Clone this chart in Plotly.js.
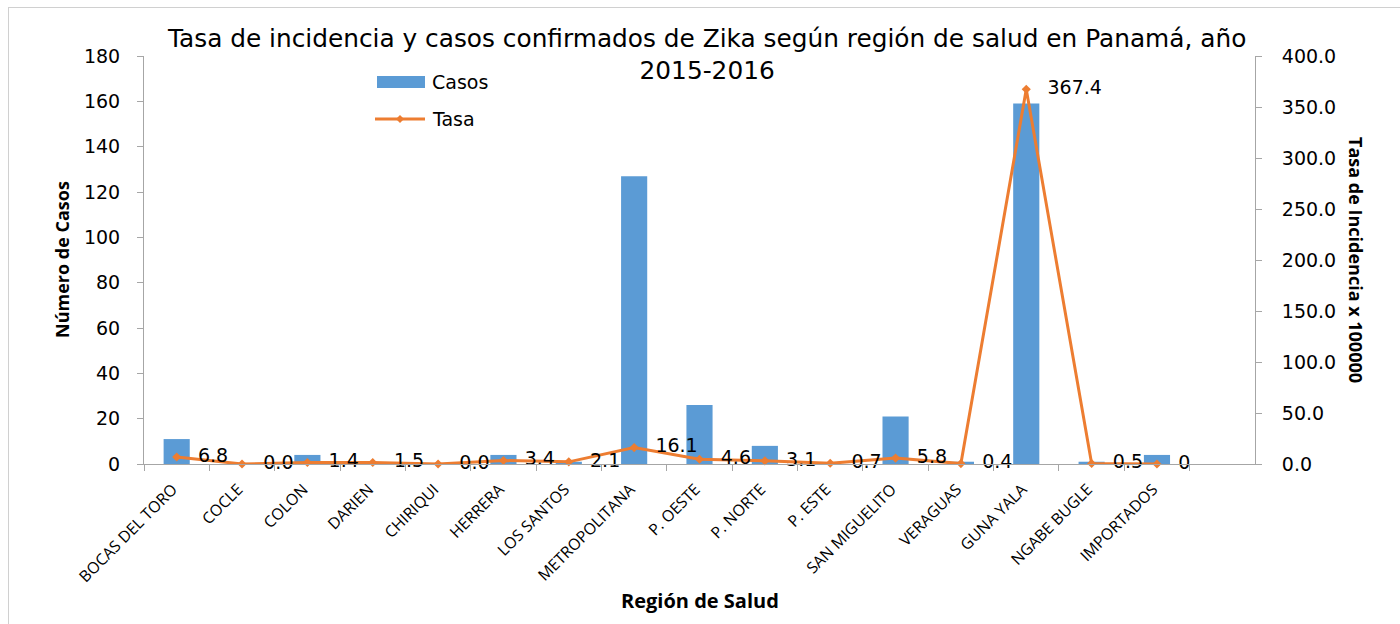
<!DOCTYPE html>
<html>
<head>
<meta charset="utf-8">
<script src="https://cdn.plot.ly/plotly-3.0.1.min.js"></script>
<style>
html,body{margin:0;padding:0;background:#fff;}
#frame{position:absolute;left:8px;top:7px;width:1420px;height:640px;border-left:1px solid #d0d0d0;border-top:1px solid #d0d0d0;pointer-events:none;}
#chart{width:1400px;height:624px;}
</style>
</head>
<body>
<div id="chart"></div>
<div id="frame"></div>
<script>
const regiones = ["BOCAS DEL TORO","COCLE","COLON","DARIEN","CHIRIQUI","HERRERA","LOS SANTOS","METROPOLITANA","P. OESTE","P. NORTE","P. ESTE","SAN MIGUELITO","VERAGUAS","GUNA YALA","NGABE BUGLE","IMPORTADOS"];
const casos = [11,0,4,0,0,4,1,127,26,8,0,21,1,159,1,4];
const tasa = [6.8,0.0,1.4,1.5,0.0,3.4,2.1,16.1,4.6,3.1,0.7,5.8,0.4,367.4,0.5,0];
const tasaEtiquetas = ["6.8","0.0","1.4","1.5","0.0","3.4","2.1","16.1","4.6","3.1","0.7","5.8","0.4","367.4","0.5","0"];
const casosTicks = [0,20,40,60,80,100,120,140,160,180];
const tasaTicks = [0,50,100,150,200,250,300,350,400];
const titulo = "Tasa de incidencia y casos confirmados de Zika según región de salud en Panamá, año<br>2015-2016";

const tickFont = {family:"DejaVu Sans, Verdana, sans-serif", size:19, color:"#000"};
const labelFont = {family:"DejaVu Sans, Verdana, sans-serif", size:19, color:"#000"};
const titleFont = {family:"Open Sans, sans-serif", size:18, color:"#000", weight:"bold"};

const px = v => (v-144)/1111;
const py = v => (464-v)/408;

const data = [
  {type:"bar", name:"Casos", x:regiones, y:casos, marker:{color:"#5B9BD5"}, showlegend:false, hoverinfo:"x+y"},
  {type:"scatter", mode:"lines+markers+text", name:"Tasa", x:regiones, y:tasa, yaxis:"y2",
   text:tasaEtiquetas, texttemplate:"\u00a0\u00a0\u2009%{text}", textposition:"middle right", textfont:labelFont,
   cliponaxis:false, showlegend:false,
   line:{color:"#ED7D31", width:3}, marker:{color:"#ED7D31", size:7, symbol:"diamond"}}
];

const layout = {
  width:1400, height:624,
  margin:{l:144, r:145, t:56, b:160, pad:0},
  paper_bgcolor:"#fff", plot_bgcolor:"#fff",
  bargap:0.6,
  showlegend:false,
  xaxis:{type:"category", range:[-0.5,16.5], tickangle:-45,
         tickfont:{family:"Open Sans, sans-serif", size:15.8, color:"#000"},
         ticklabelshift:-4, ticklabelstandoff:9,
         showline:true, linecolor:"#a6a6a6", linewidth:1, ticks:"outside", tickson:"boundaries",
         ticklen:6, tickcolor:"#a6a6a6", showgrid:false, zeroline:false},
  yaxis:{range:[0,180], tickvals:casosTicks, tickfont:tickFont, showline:true, linecolor:"#a6a6a6",
         ticks:"outside", ticklen:6, tickcolor:"#a6a6a6", showgrid:false, zeroline:false, ticklabelstandoff:13},
  yaxis2:{range:[0,400], tickvals:tasaTicks, tickformat:".1f", overlaying:"y", side:"right", tickfont:tickFont,
          showline:true, linecolor:"#a6a6a6", ticks:"outside", ticklen:6, tickcolor:"#a6a6a6",
          showgrid:false, zeroline:false, ticklabelstandoff:16},
  shapes:[
    {type:"rect", xref:"paper", yref:"paper", x0:px(377), x1:px(425), y0:py(88), y1:py(76),
     fillcolor:"#5B9BD5", line:{width:0}},
    {type:"line", xref:"paper", yref:"paper", x0:px(375), x1:px(425), y0:py(119), y1:py(119),
     line:{color:"#ED7D31", width:3}},
    {type:"path", xref:"paper", yref:"paper",
     path:"M "+px(400)+" "+py(115)+" L "+px(404)+" "+py(119)+" L "+px(400)+" "+py(123)+" L "+px(396)+" "+py(119)+" Z",
     fillcolor:"#ED7D31", line:{width:0}}
  ],
  annotations:[
    {text:titulo, xref:"paper", yref:"paper", x:px(706), y:py(54), showarrow:false, xanchor:"center", yanchor:"middle",
     font:{family:"DejaVu Sans, Verdana, sans-serif", size:24.8, color:"#000"}},
    {text:"Casos", xref:"paper", yref:"paper", x:px(430), y:py(82), showarrow:false, xanchor:"left", yanchor:"middle",
     font:{family:"DejaVu Sans, Verdana, sans-serif", size:19, color:"#000"}},
    {text:"Tasa", xref:"paper", yref:"paper", x:px(430), y:py(119), showarrow:false, xanchor:"left", yanchor:"middle",
     font:{family:"DejaVu Sans, Verdana, sans-serif", size:19, color:"#000"}},
    {text:"Número de Casos", xref:"paper", yref:"paper", x:px(62), y:py(260), textangle:-90, showarrow:false, font:titleFont, xanchor:"center", yanchor:"middle"},
    {text:"Tasa de Incidencia x 100000", xref:"paper", yref:"paper", x:px(1356), y:py(260), textangle:90, showarrow:false, font:titleFont, xanchor:"center", yanchor:"middle"},
    {text:"Región de Salud", xref:"paper", yref:"paper", x:px(700), y:py(600), showarrow:false, font:{family:"Open Sans, sans-serif", size:20, color:"#000", weight:"bold"}, xanchor:"center", yanchor:"middle"}
  ]
};

Plotly.newPlot("chart", data, layout, {displayModeBar:false});
</script>
</body>
</html>
